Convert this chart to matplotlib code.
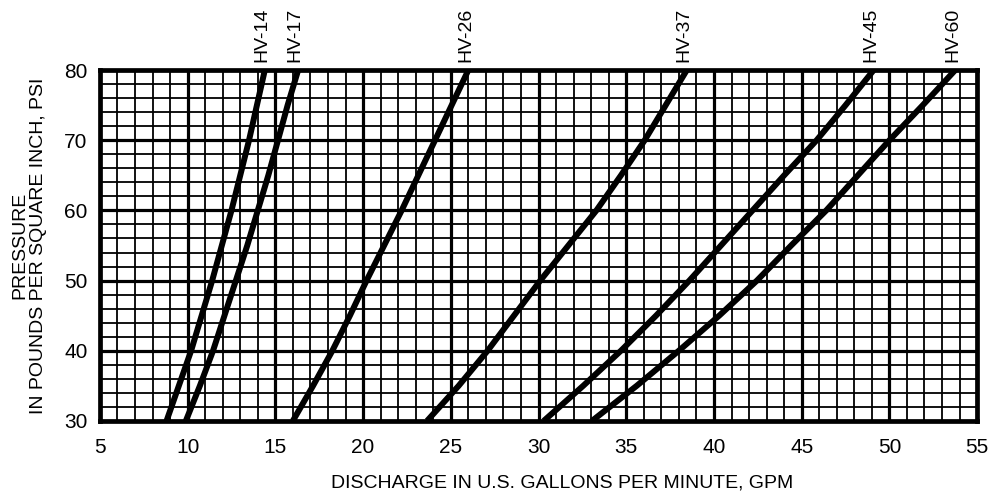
import matplotlib.pyplot as plt
from matplotlib.ticker import MultipleLocator

plt.rcParams["font.family"] = ["Liberation Sans", "DejaVu Sans"]

# pressure levels (psi) and discharge readings (GPM) for each nozzle
pressure = [30, 35, 40, 45, 50, 55, 60, 65, 70, 75, 80]
models = ["HV-14", "HV-17", "HV-26", "HV-37", "HV-45", "HV-60"]
hv14 = [8.8, 9.5, 10.2, 10.8, 11.4, 11.95, 12.5, 13.0, 13.5, 13.95, 14.4]
hv17 = [9.9, 10.7, 11.45, 12.1, 12.75, 13.4, 14.0, 14.6, 15.15, 15.7, 16.3]
hv26 = [16.0, 17.15, 18.25, 19.25, 20.2, 21.2, 22.2, 23.15, 24.1, 25.05, 26.0]
hv37 = [23.65, 25.45, 27.1, 28.6, 30.1, 31.7, 33.3, 34.7, 36.05, 37.25, 38.45]
hv45 = [30.3, 32.55, 34.7, 36.7, 38.6, 40.4, 42.2, 44.0, 45.85, 47.5, 49.1]
hv60 = [33.05, 35.6, 38.0, 40.3, 42.45, 44.4, 46.4, 48.2, 50.0, 51.9, 53.75]
flows = [hv14, hv17, hv26, hv37, hv45, hv60]

xticks = [5, 10, 15, 20, 25, 30, 35, 40, 45, 50, 55]
yticks = [30, 40, 50, 60, 70, 80]

fig = plt.figure(figsize=(9.89, 5.01), dpi=100)
ax = fig.add_axes([0.101, 0.160, 0.887, 0.700])

ax.set_xlim(5, 55)
ax.set_ylim(30, 80)
ax.set_xticks(xticks)
ax.set_yticks(yticks)
ax.xaxis.set_minor_locator(MultipleLocator(1))
ax.yaxis.set_minor_locator(MultipleLocator(2))

# graph paper grid
ax.grid(which="major", color="black", lw=2.3, zorder=1)
ax.grid(which="minor", color="black", lw=1.3, zorder=1)
ax.set_axisbelow(True)

for sp in ax.spines.values():
    sp.set_linewidth(3.4)
    sp.set_zorder(4)

ax.tick_params(which="both", length=0)
ax.tick_params(axis="x", labelsize=15, pad=12)
ax.tick_params(axis="y", labelsize=15, pad=9)

# curves + labels above top edge
for name, q in zip(models, flows):
    ax.plot(q, pressure, color="black", lw=4.3, solid_capstyle="butt",
            solid_joinstyle="round", zorder=3)
    ax.annotate(name, xy=(q[-1], 80), xytext=(-2, 6), textcoords="offset points",
                rotation=90, ha="center", va="bottom", fontsize=14,
                annotation_clip=False)

ax.set_ylabel("PRESSURE\nIN POUNDS PER SQUARE INCH, PSI", fontsize=14,
              labelpad=12, linespacing=1.15)
fig.text(562 / 989, 1 - 483 / 501, "DISCHARGE IN U.S. GALLONS PER MINUTE, GPM",
         ha="center", va="center", fontsize=14)

fig.savefig("out.png", dpi=100)
